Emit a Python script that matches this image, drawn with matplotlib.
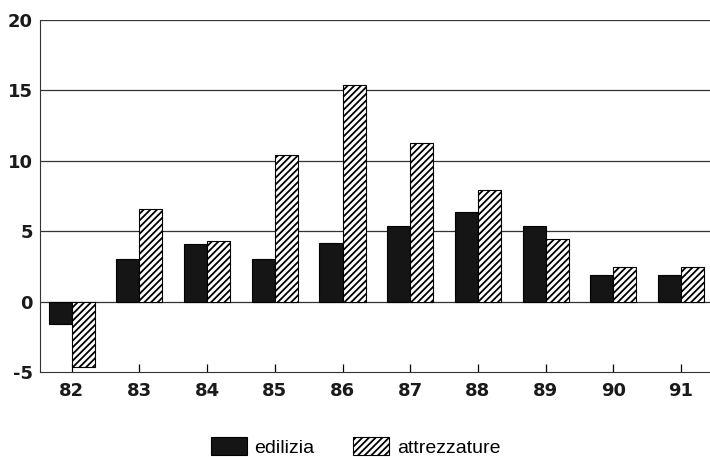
import numpy as np
import matplotlib.pyplot as plt

# anni e valori
anni = ["82", "83", "84", "85", "86", "87", "88", "89", "90", "91"]
edilizia = [-1.6, 3.0, 4.1, 3.0, 4.15, 5.35, 6.4, 5.4, 1.9, 1.9]
attrezzature = [-4.65, 6.6, 4.3, 10.4, 15.4, 11.3, 7.9, 4.45, 2.45, 2.45]

plt.rcParams['font.family'] = ['DejaVu Sans']
plt.rcParams['axes.unicode_minus'] = False
plt.rcParams['hatch.linewidth'] = 1.3

fig = plt.figure(figsize=(7.1, 4.57), dpi=100)
ax = fig.add_axes([0.0563, 0.186, 0.9437, 0.770])

x = np.arange(len(anni))
w = 0.34
b1 = ax.bar(x - w/2, edilizia, w, color='#151515', edgecolor='black', linewidth=0.8,
            label='edilizia', zorder=3)
b2 = ax.bar(x + w/2, attrezzature, w, color='white', edgecolor='black', linewidth=0.8,
            hatch='/////', label='attrezzature', zorder=3)

ax.set_ylim(-5, 20)
ax.set_yticks([-5, 0, 5, 10, 15, 20])
ax.set_xlim(-0.47, len(anni) - 1 + 0.43)
ax.set_xticks(x)
ax.set_xticklabels(anni)

# griglia orizzontale
for v in [0, 5, 10, 15, 20]:
    ax.axhline(v, color='#333333', linewidth=0.9, zorder=1)

for s in ['top', 'right']:
    ax.spines[s].set_visible(False)
ax.spines['left'].set_color('#333333')
ax.spines['bottom'].set_color('#333333')
ax.tick_params(axis='x', direction='in', length=6, width=0.9, pad=7, labelsize=13)
ax.tick_params(axis='y', length=0, pad=5, labelsize=13)
for lab in ax.get_xticklabels() + ax.get_yticklabels():
    lab.set_fontweight('bold')
    lab.set_color('#1a1a1a')

fig.legend(handles=[b1, b2], loc='center', bbox_to_anchor=(0.501, 0.022),
           ncol=2, frameon=False, prop={'family': 'Liberation Sans', 'size': 14},
           handlelength=1.85, handleheight=1.0, columnspacing=2.0,
           handletextpad=0.4, borderpad=0.2)

fig.savefig('out.png', dpi=100)
